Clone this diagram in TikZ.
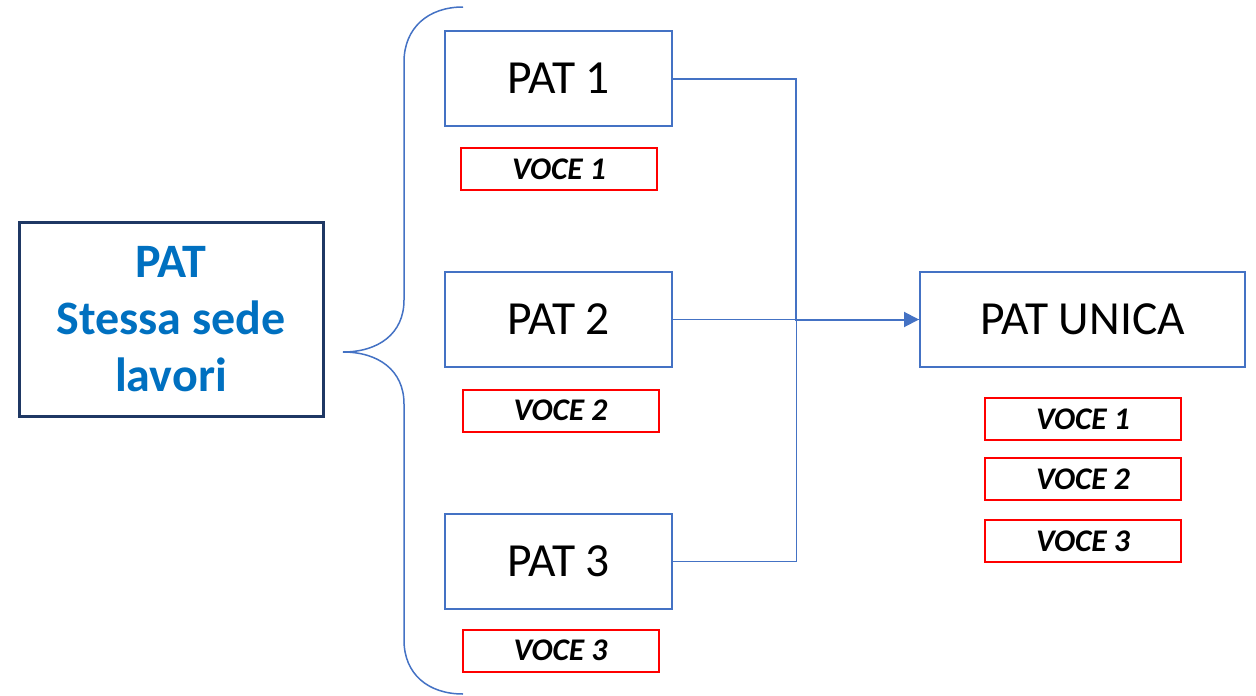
\documentclass[tikz,border=0pt]{standalone}
\usepackage{fontspec}
\setmainfont{Carlito}
\usetikzlibrary{arrows.meta}
\definecolor{bblue}{HTML}{4472C4}
\definecolor{navy}{HTML}{1F3864}
\definecolor{tblue}{HTML}{0070C0}
\definecolor{vred}{HTML}{FF0000}
\begin{document}
\begin{tikzpicture}[x=1pt,y=-1pt,
  patbox/.style={draw=bblue,line width=2pt,minimum width=227pt,minimum height=95pt,font=\fontsize{47.5}{52}\selectfont,inner sep=0pt},
  vocebox/.style={draw=vred,line width=2pt,minimum width=196pt,minimum height=42pt,font=\fontsize{31.5}{34}\selectfont\bfseries\itshape,inner sep=0pt},
  mainbox/.style={draw=navy,line width=3pt,minimum width=304pt,minimum height=194pt,font=\fontsize{48}{57}\selectfont\bfseries,text=tblue,align=center,inner sep=0pt},
  conn/.style={draw=bblue,line width=1pt}]
\useasboundingbox (0,0) rectangle (1256,696);
\node[mainbox] (pat) at (171,319) {PAT\\Stessa sede\\lavori};
\node[patbox] (p1) at (558.5,78.5) {PAT 1};
\node[patbox] (p2) at (558.5,319.5) {PAT 2};
\node[patbox] (p3) at (558.5,561) {PAT 3};
\node[patbox,minimum width=325pt] (pu) at (1082.5,319.5) {PAT UNICA};
\node[vocebox] (v1) at (559,169) {VOCE 1};
\node[vocebox] (v2) at (560.5,410.5) {VOCE 2};
\node[vocebox] (v3) at (560.5,650.5) {VOCE 3};
\node[vocebox] (u1) at (1083,419) {VOCE 1};
\node[vocebox] (u2) at (1083,479) {VOCE 2};
\node[vocebox] (u3) at (1083,541) {VOCE 3};
\coordinate (j) at (796,319.5);
\draw[conn,line width=2pt,-{Triangle[length=15pt,width=15pt]}] (p1.east) -| (j) -- (pu.west);
\draw[conn] (p2.east) -- (pu.west);
\draw[conn] (p3.east) -| (j);
\draw[draw=bblue,line width=1.5pt] (463,7) .. controls (428,7) and (404,28) .. (404,62) -- (404,300)
  .. controls (404,334) and (378,352) .. (343,352)
  .. controls (378,352) and (404,370) .. (404,404) -- (404,640)
  .. controls (404,674) and (428,694) .. (463,694);
\end{tikzpicture}
\end{document}
